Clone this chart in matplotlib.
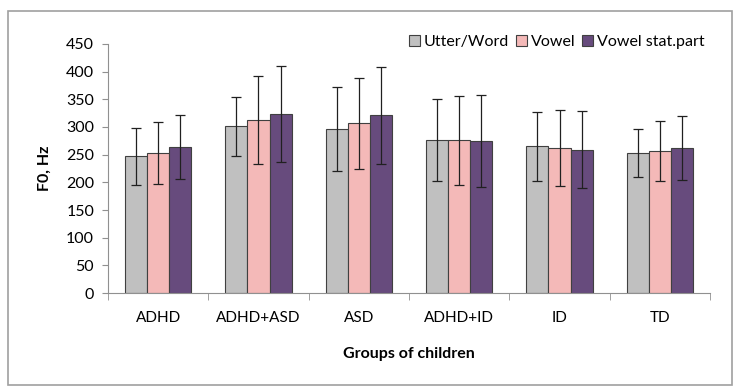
import numpy as np
import matplotlib.pyplot as plt
from matplotlib.patches import Rectangle

groups = ['ADHD', 'ADHD+ASD', 'ASD', 'ADHD+ID', 'ID', 'TD']
series = ['Utter/Word', 'Vowel', 'Vowel stat.part']
utter = [247, 301, 296, 276, 265, 253]
vowel = [253, 313, 307, 276, 262, 256]
stat = [264, 324, 321, 275, 259, 262]
utter_err = [52, 54, 76, 74, 62, 43]
vowel_err = [56, 79, 82, 80, 68, 54]
stat_err = [58, 87, 88, 83, 70, 57]

colors = ['#C0C0C0', '#F4B9B8', '#674B7D']

plt.rcParams['font.family'] = ['Lato', 'DejaVu Sans']

fig = plt.figure(figsize=(7.36, 3.91), dpi=100)
ax = fig.add_axes([0.1467, 0.2506, 0.8180, 0.6369])

x = np.arange(len(groups))
w = 0.22
vals = [utter, vowel, stat]
errs = [utter_err, vowel_err, stat_err]
for i in range(3):
    ax.bar(x + (i - 1) * w, vals[i], w, color=colors[i], edgecolor='#404040',
           linewidth=0.8, label=series[i], zorder=2)
    ax.errorbar(x + (i - 1) * w, vals[i], yerr=errs[i], fmt='none',
                ecolor='#202020', elinewidth=0.9, capsize=3.5, capthick=0.9, zorder=3)

ax.set_xlim(-0.5, len(groups) - 0.5)
ax.set_ylim(0, 450)
ax.set_yticks(np.arange(0, 451, 50))
ax.set_xticks(x)
ax.set_xticklabels(groups)
ax.set_xticks(np.arange(-0.5, len(groups), 1), minor=True)
ax.tick_params(axis='x', which='major', length=0, pad=13, labelsize=11)
ax.tick_params(axis='x', which='minor', length=5, color='#909090', direction='out')
ax.tick_params(axis='y', length=4, color='#909090', labelsize=11.5, pad=6)

for s in ['top', 'right']:
    ax.spines[s].set_visible(False)
ax.spines['left'].set_color('#909090')
ax.spines['bottom'].set_color('#909090')

ax.set_xlabel('Groups of children', fontweight='bold', fontsize=11.5, labelpad=16)
ax.set_ylabel('F0, Hz', fontweight='bold', fontsize=11.5, labelpad=10)

ax.legend(ncol=3, loc='upper right', bbox_to_anchor=(1.015, 1.095), frameon=False,
          handlelength=0.7, handleheight=0.7, handletextpad=0.25, columnspacing=0.4,
          fontsize=11.5)

fig.patches.append(Rectangle((0.011, 0.015), 0.983, 0.958, transform=fig.transFigure,
                             fill=False, edgecolor='#A0A0A0', linewidth=1.2))

fig.savefig('out.png', dpi=100)
